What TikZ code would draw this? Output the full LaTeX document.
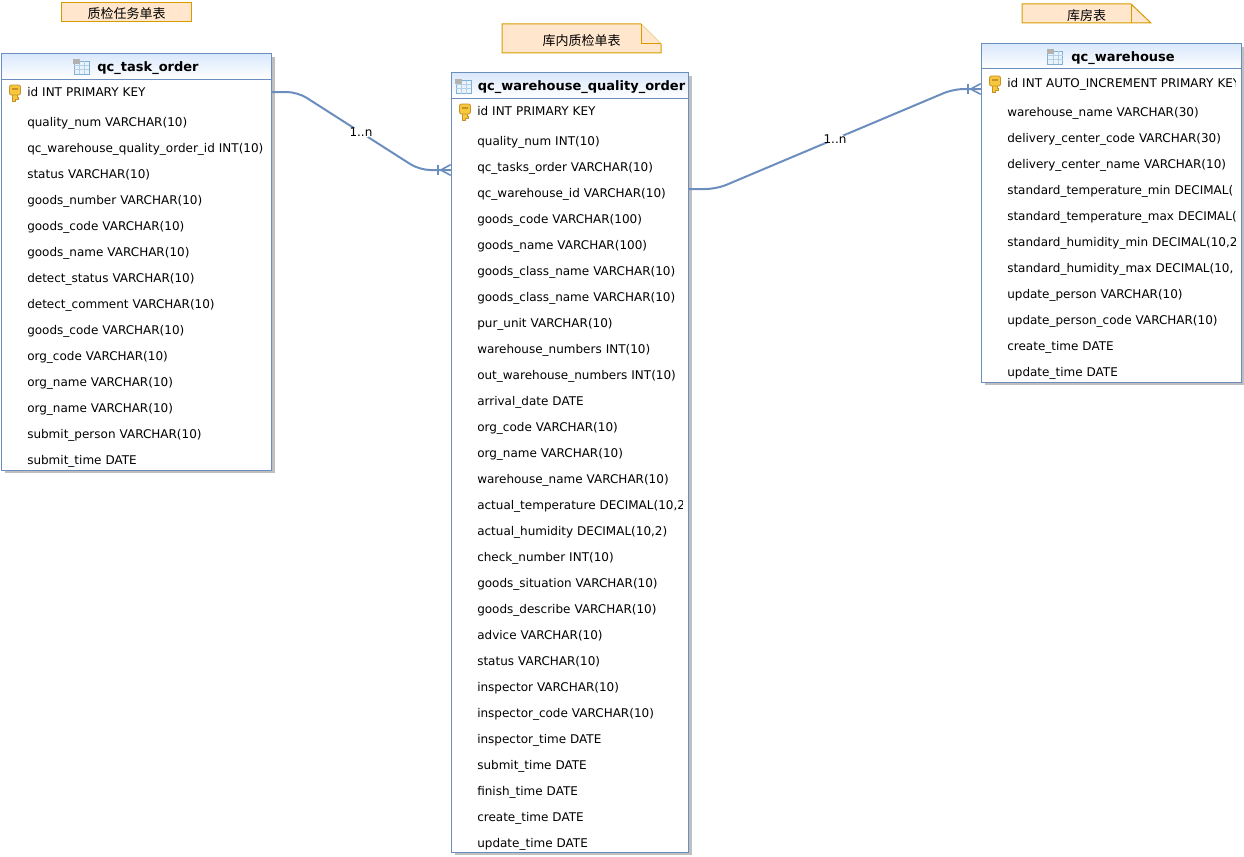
\documentclass[tikz,border=0pt]{standalone}
\usepackage{fontspec}
\usepackage{xcolor}
\usepackage{tikz}
\setmainfont{DejaVu Sans}
\newfontfamily\cjk{Noto Sans CJK SC}
\usetikzlibrary{shapes,positioning,shadows,backgrounds,decorations.markings,arrows.meta}
\definecolor{tableline}{HTML}{6C8EBF}
\definecolor{headtop}{HTML}{DAE8FC}
\definecolor{notefill}{HTML}{FFE6CC}
\definecolor{noteline}{HTML}{D79B00}
\definecolor{keygold}{HTML}{F7C83C}
\definecolor{keyedge}{HTML}{C8902A}
\definecolor{iconline}{HTML}{7FB0D8}
\definecolor{iconfill}{HTML}{EAF3FB}

\begin{document}
\begin{tikzpicture}[x=0.75pt, y=-0.75pt, node distance=19.5pt]
    % Styles
    \tikzstyle{tablehead} = [draw=tableline, line width=0.75pt, rectangle, top color=headtop, bottom color=white, minimum height=18.75pt, inner sep=0pt, outer sep=0pt, text height=9pt, text depth=1pt, font=\fontsize{9.75}{12}\selectfont\bfseries, drop shadow={shadow xshift=2.25pt, shadow yshift=-2.25pt, fill=black!25, opacity=1}]
    \tikzstyle{tablebody} = [draw=tableline, line width=0.75pt, rectangle, fill=white, inner sep=0pt, outer sep=0pt, drop shadow={shadow xshift=2.25pt, shadow yshift=-2.25pt, fill=black!25, opacity=1}]
    \tikzstyle{column} = [rectangle, text width=186pt, align=left, inner sep=0pt, text height=7pt, text depth=2pt, font=\fontsize{9}{11}\selectfont]
    \tikzstyle{notebox} = [rectangle, inner sep=0pt, outer sep=0pt, minimum height=14.25pt, text height=11.5pt, text depth=1.4pt, font=\fontsize{9.75}{12}\selectfont\cjk]
    \tikzstyle{noteshape} = [draw=noteline, fill=notefill, line width=0.75pt]
    \tikzstyle{relation} = [draw=tableline, line width=1.5pt, rounded corners=8pt, postaction={decorate}, decoration={markings, mark=at position 1 with {\arrow[tableline]{Bar[width=8pt, line width=1.2pt, sep=0pt] Straight Barb[reversed, length=7.5pt, width=8pt, line width=1.2pt]}}}]
    \tikzstyle{relabel} = [fill=white, inner sep=1pt, font=\fontsize{9}{11}\selectfont]
    \tikzset{
        keyicon/.pic={
            \draw [keyedge, fill=keygold, line width=0.6pt] (-2.5,1) -- (-2.5,8) -- (0.5,8) -- (0.5,6.5) -- (3,6.5) -- (3,4) -- (2.5,4) -- (2.5,1) -- cycle;
            \draw [keyedge, fill=keygold, line width=0.6pt, rounded corners=1.5pt] (-5.5,-8) rectangle (5.5,2);
            \fill [keyedge] (-3,-5) rectangle (3,-3.5);
        },
        tableicon/.pic={
            \draw [iconline, fill=iconfill, line width=0.75pt] (-7,-5) rectangle (8,8);
            \draw [iconline!60, line width=0.4pt] (-7,-1) -- (8,-1) (-7,3) -- (8,3) (-2,-5) -- (-2,8) (3,-5) -- (3,8);
            \fill [black!30] (-8,-7) rectangle (-1,-2);
        }
    }

    % Tables
    \node [tablehead, minimum width=202.5pt] (TaskHead) at (136.5,66.5) {\hspace*{17.25pt}qc\_task\_order};
    \node [tablebody, minimum width=202.5pt, minimum height=293.25pt, below=0pt of TaskHead] (TaskBody) {};
    \node [tablehead, minimum width=177.75pt] (QualityHead) at (570,85.5) {\hspace*{17.25pt}qc\_warehouse\_quality\_order};
    \node [tablebody, minimum width=177.75pt, minimum height=565.5pt, below=0pt of QualityHead] (QualityBody) {};
    \node [tablehead, minimum width=195pt] (WarehouseHead) at (1111.5,56.5) {\hspace*{17.25pt}qc\_warehouse};
    \node [tablebody, minimum width=195pt, minimum height=234.75pt, below=0pt of WarehouseHead] (WarehouseBody) {};

    % Icons
    \pic at ([xshift=-41.6pt]TaskHead.center) {tableicon};
    \pic at ([xshift=-80.25pt]QualityHead.center) {tableicon};
    \pic at ([xshift=-42.4pt]WarehouseHead.center) {tableicon};

    % Columns of qc_task_order
    \node [column, anchor=west] (TaskId) at ([shift={(25.5,14)}]TaskBody.north west) {id INT PRIMARY KEY};
    \node [column, below of=TaskId, yshift=-3pt] (TaskNum) {quality\_num VARCHAR(10)};
    \node [column, below of=TaskNum] (TaskOrderId) {qc\_warehouse\_quality\_order\_id INT(10)};
    \node [column, below of=TaskOrderId] (TaskStatus) {status VARCHAR(10)};
    \node [column, below of=TaskStatus] (TaskGoodsNumber) {goods\_number VARCHAR(10)};
    \node [column, below of=TaskGoodsNumber] (TaskGoodsCode) {goods\_code VARCHAR(10)};
    \node [column, below of=TaskGoodsCode] (TaskGoodsName) {goods\_name VARCHAR(10)};
    \node [column, below of=TaskGoodsName] (TaskDetectStatus) {detect\_status VARCHAR(10)};
    \node [column, below of=TaskDetectStatus] (TaskDetectComment) {detect\_comment VARCHAR(10)};
    \node [column, below of=TaskDetectComment] (TaskGoodsCodeB) {goods\_code VARCHAR(10)};
    \node [column, below of=TaskGoodsCodeB] (TaskOrgCode) {org\_code VARCHAR(10)};
    \node [column, below of=TaskOrgCode] (TaskOrgName) {org\_name VARCHAR(10)};
    \node [column, below of=TaskOrgName] (TaskOrgNameB) {org\_name VARCHAR(10)};
    \node [column, below of=TaskOrgNameB] (TaskSubmitPerson) {submit\_person VARCHAR(10)};
    \node [column, below of=TaskSubmitPerson] (TaskSubmitTime) {submit\_time DATE};
    \pic at ([xshift=-9pt]TaskId.west) {keyicon};

    % Columns of qc_warehouse_quality_order
    \begin{scope}
    \clip (QualityBody.north west) rectangle ([xshift=-4.5pt]QualityBody.south east);
    \node [column, anchor=west] (QualityId) at ([shift={(25.5,14)}]QualityBody.north west) {id INT PRIMARY KEY};
    \node [column, below of=QualityId, yshift=-3pt] (QualityNum) {quality\_num INT(10)};
    \node [column, below of=QualityNum] (QualityTasks) {qc\_tasks\_order VARCHAR(10)};
    \node [column, below of=QualityTasks] (QualityWarehouseId) {qc\_warehouse\_id VARCHAR(10)};
    \node [column, below of=QualityWarehouseId] (QualityGoodsCode) {goods\_code VARCHAR(100)};
    \node [column, below of=QualityGoodsCode] (QualityGoodsName) {goods\_name VARCHAR(100)};
    \node [column, below of=QualityGoodsName] (QualityClass) {goods\_class\_name VARCHAR(10)};
    \node [column, below of=QualityClass] (QualityClassB) {goods\_class\_name VARCHAR(10)};
    \node [column, below of=QualityClassB] (QualityUnit) {pur\_unit VARCHAR(10)};
    \node [column, below of=QualityUnit] (QualityNumbers) {warehouse\_numbers INT(10)};
    \node [column, below of=QualityNumbers] (QualityOutNumbers) {out\_warehouse\_numbers INT(10)};
    \node [column, below of=QualityOutNumbers] (QualityArrival) {arrival\_date DATE};
    \node [column, below of=QualityArrival] (QualityOrgCode) {org\_code VARCHAR(10)};
    \node [column, below of=QualityOrgCode] (QualityOrgName) {org\_name VARCHAR(10)};
    \node [column, below of=QualityOrgName] (QualityWarehouseName) {warehouse\_name VARCHAR(10)};
    \node [column, below of=QualityWarehouseName] (QualityTemperature) {actual\_temperature DECIMAL(10,2};
    \node [column, below of=QualityTemperature] (QualityHumidity) {actual\_humidity DECIMAL(10,2)};
    \node [column, below of=QualityHumidity] (QualityCheck) {check\_number INT(10)};
    \node [column, below of=QualityCheck] (QualitySituation) {goods\_situation VARCHAR(10)};
    \node [column, below of=QualitySituation] (QualityDescribe) {goods\_describe VARCHAR(10)};
    \node [column, below of=QualityDescribe] (QualityAdvice) {advice VARCHAR(10)};
    \node [column, below of=QualityAdvice] (QualityStatus) {status VARCHAR(10)};
    \node [column, below of=QualityStatus] (QualityInspector) {inspector VARCHAR(10)};
    \node [column, below of=QualityInspector] (QualityInspectorCode) {inspector\_code VARCHAR(10)};
    \node [column, below of=QualityInspectorCode] (QualityInspectorTime) {inspector\_time DATE};
    \node [column, below of=QualityInspectorTime] (QualitySubmit) {submit\_time DATE};
    \node [column, below of=QualitySubmit] (QualityFinish) {finish\_time DATE};
    \node [column, below of=QualityFinish] (QualityCreate) {create\_time DATE};
    \node [column, below of=QualityCreate] (QualityUpdate) {update\_time DATE};
    \end{scope}
    \pic at ([xshift=-9pt]QualityId.west) {keyicon};

    % Columns of qc_warehouse
    \begin{scope}
    \clip (WarehouseBody.north west) rectangle ([xshift=-4.5pt]WarehouseBody.south east);
    \node [column, anchor=west] (WarehouseId) at ([shift={(25.5,15)}]WarehouseBody.north west) {id INT AUTO\_INCREMENT PRIMARY KEY};
    \node [column, below of=WarehouseId, yshift=-2.25pt] (WarehouseName) {warehouse\_name VARCHAR(30)};
    \node [column, below of=WarehouseName] (WarehouseCenterCode) {delivery\_center\_code VARCHAR(30)};
    \node [column, below of=WarehouseCenterCode] (WarehouseCenterName) {delivery\_center\_name VARCHAR(10)};
    \node [column, below of=WarehouseCenterName] (WarehouseTempMin) {standard\_temperature\_min DECIMAL(};
    \node [column, below of=WarehouseTempMin] (WarehouseTempMax) {standard\_temperature\_max DECIMAL(};
    \node [column, below of=WarehouseTempMax] (WarehouseHumMin) {standard\_humidity\_min DECIMAL(10,2};
    \node [column, below of=WarehouseHumMin] (WarehouseHumMax) {standard\_humidity\_max DECIMAL(10,};
    \node [column, below of=WarehouseHumMax] (WarehousePerson) {update\_person VARCHAR(10)};
    \node [column, below of=WarehousePerson] (WarehousePersonCode) {update\_person\_code VARCHAR(10)};
    \node [column, below of=WarehousePersonCode] (WarehouseCreate) {create\_time DATE};
    \node [column, below of=WarehouseCreate] (WarehouseUpdate) {update\_time DATE};
    \end{scope}
    \pic at ([xshift=-9pt]WarehouseId.west) {keyicon};

    % Notes
    \node [notebox, noteshape, minimum width=97.5pt] (NoteTask) at (126.5,12) {质检任务单表};
    \node [notebox, minimum width=119.25pt, minimum height=21.75pt] (NoteQuality) at (581.5,38.5) {库内质检单表};
    \node [notebox, minimum width=96.75pt] (NoteWarehouse) at (1086.5,13.5) {库房表};
    \begin{scope}[on background layer]
    \draw [noteshape] (NoteQuality.south west) -- (NoteQuality.north west) -- ([xshift=-15pt]NoteQuality.north east) -- ([yshift=-15pt]NoteQuality.north east) -- (NoteQuality.south east) -- cycle;
    \draw [noteshape] ([xshift=-15pt]NoteQuality.north east) -- ([xshift=-15pt, yshift=-15pt]NoteQuality.north east) -- ([yshift=-15pt]NoteQuality.north east);
    \draw [noteshape] (NoteWarehouse.south west) -- (NoteWarehouse.north west) -- ([xshift=-15pt]NoteWarehouse.north east) -- (NoteWarehouse.south east) -- cycle;
    \draw [noteshape] ([xshift=-15pt]NoteWarehouse.north east) -- ([xshift=-15pt]NoteWarehouse.south east);
    \end{scope}

    % Connections
    \coordinate (TaskOut) at ([yshift=-9.75pt]TaskBody.north east);
    \coordinate (QualityIn) at ([yshift=-54pt]QualityBody.north west);
    \coordinate (QualityOut) at ([yshift=-68.25pt]QualityBody.north east);
    \coordinate (WarehouseIn) at ([yshift=-15pt]WarehouseBody.north west);
    \draw [relation] (TaskOut) -- ([xshift=19.5pt]TaskOut) -- node [relabel, pos=0.52] (TaskLabel) {1..n} ([xshift=-24pt]QualityIn) -- (QualityIn);
    \draw [relation] (QualityOut) -- ([xshift=21pt]QualityOut) -- node [relabel] (WarehouseLabel) {1..n} ([xshift=-21pt]WarehouseIn) -- (WarehouseIn);

    \useasboundingbox (0,0) rectangle (1244,856);
\end{tikzpicture}
\end{document}
